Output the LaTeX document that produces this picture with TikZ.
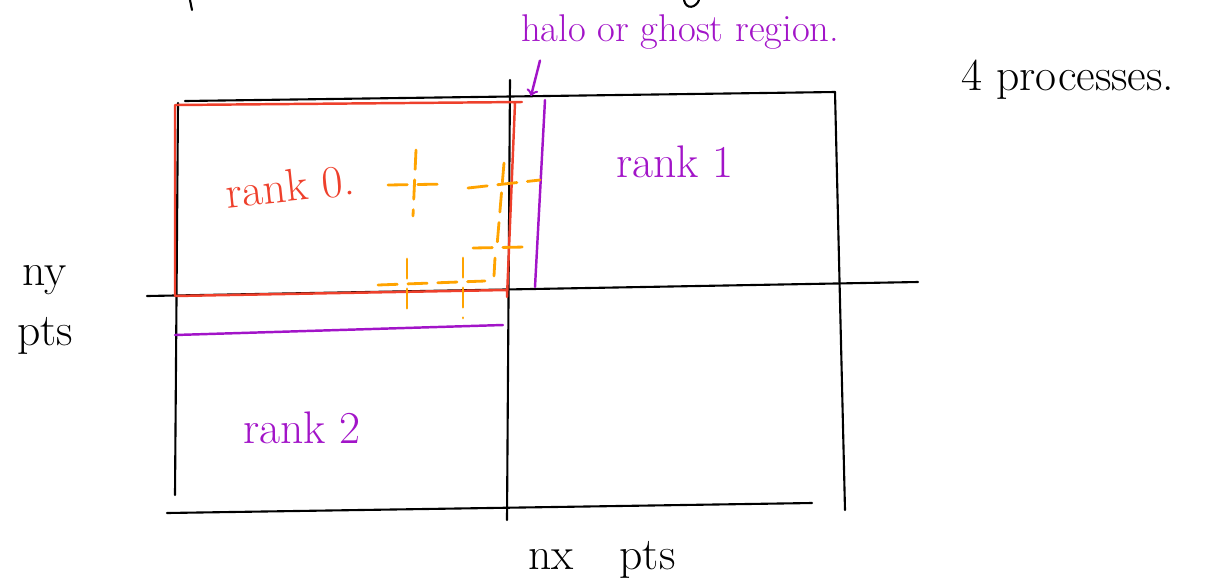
\documentclass[tikz,border=0pt]{standalone}
\usepackage{tikz}
\definecolor{rankred}{RGB}{238,64,44}
\definecolor{halopurple}{RGB}{162,20,200}
\definecolor{haloorange}{RGB}{255,163,0}
\begin{document}
\begin{tikzpicture}[x=0.02cm,y=-0.02cm,line cap=round,
    grid/.style={line width=1.2pt},
    rankbox/.style={rankred,line width=1.4pt},
    halo/.style={halopurple,line width=1.4pt},
    ghost/.style={haloorange,line width=1.6pt,dash pattern=on 11pt off 6pt},
    hand/.style={font=\fontsize{26}{34}\selectfont}]
    \useasboundingbox (0,0) rectangle (1218,586);
    % Cut-off strokes at the top
    \draw[grid] (190,0) -- (192,10);
    \draw[grid] (684,0) .. controls (686,10) and (696,8) .. (699,0);
    % Grid of processes
    \draw[grid] (185,101) -- (835,92);
    \draw[grid] (835,92) -- (845,510);
    \draw[grid] (178,103) -- (175,495);
    \draw[grid] (510,80) -- (507,520);
    \draw[grid] (147,296) -- (918,282);
    \draw[grid] (167,513) -- (812,503);
    % Rank 0 block
    \draw[rankbox] (175,105) -- (522,102) (515,103) -- (507,297)
        (175,296) -- (507,290) (175,105) -- (175,296);
    % Halo strips
    \draw[halo] (545,100) -- (535,287);
    \draw[halo] (175,335) -- (503,325);
    % Ghost cells
    \draw[ghost] (388,185) -- (447,184);
    \draw[ghost] (416,150) -- (413,216);
    \draw[ghost] (468,188) -- (540,180);
    \draw[ghost] (504,163) -- (497,246);
    \draw[ghost] (473,248) -- (525,247);
    \draw[ghost] (495,258) -- (494,276);
    \draw[ghost] (378,285) -- (485,281);
    \draw[ghost] (407,259) -- (407,318);
    \draw[ghost] (463,258) -- (463,318);
    % Labels
    \node[font=\fontsize{22}{26}\selectfont,halopurple,anchor=west] (halolabel) at (515,32) {halo or ghost region.};
    \node[hand] (nproc) at (1068,80) {4 processes.};
    \node[hand,rankred,rotate=6] (rank0) at (290,186) {rank 0.};
    \node[hand,halopurple] (rank1) at (675,162) {rank 1};
    \node[hand,halopurple] (rank2) at (302,428) {rank 2};
    \node[hand,align=center] (ny) at (45,310) {ny\\pts};
    \node[hand] (nx) at (602,560) {nx\quad pts};
    % Arrow to the halo
    \coordinate (haloedge) at (531,96);
    \draw[halo,->] ([xshift=0.5cm,yshift=-0.1cm]halolabel.south west) -- (haloedge);
\end{tikzpicture}
\end{document}
